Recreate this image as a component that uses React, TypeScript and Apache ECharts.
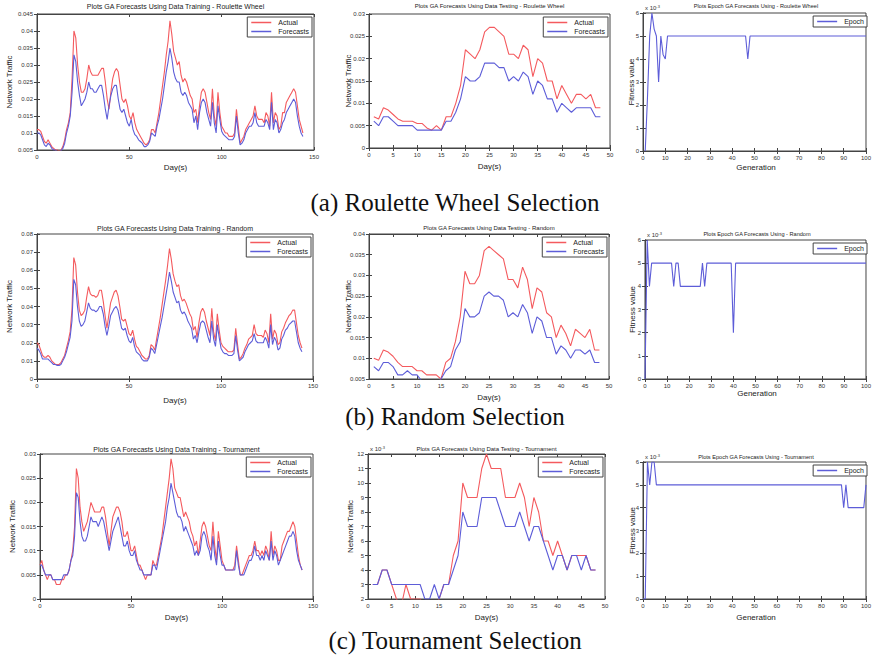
import React, { useEffect, useRef } from "react";
import * as echarts from "echarts";

// ---------- categories ----------
const trainDays = Array.from({ length: 145 }, (_, i) => i);
const testDays = Array.from({ length: 48 }, (_, i) => i + 1);
const gensRW = Array.from({ length: 100 }, (_, i) => i + 1);
const gens0 = Array.from({ length: 101 }, (_, i) => i);

// ---------- Roulette Wheel ----------
const rwTrainActual = [
  0.011, 0.011, 0.0105, 0.009, 0.0075, 0.007, 0.008, 0.007, 0.006, 0.0055,
  0.005, 0.005, 0.0048, 0.005, 0.006, 0.008, 0.011, 0.013, 0.016, 0.026,
  0.04, 0.038, 0.03, 0.025, 0.022, 0.022, 0.023, 0.026, 0.03, 0.028,
  0.027, 0.027, 0.027, 0.027, 0.028, 0.029, 0.029, 0.025, 0.02, 0.017,
  0.022, 0.026, 0.028, 0.029, 0.028, 0.024, 0.02, 0.019, 0.02, 0.018,
  0.015, 0.014, 0.016, 0.013, 0.011, 0.01, 0.009, 0.008, 0.007, 0.0065,
  0.007, 0.008, 0.011, 0.011, 0.01, 0.013, 0.016, 0.02, 0.024, 0.028,
  0.033, 0.037, 0.043, 0.039, 0.034, 0.032, 0.03, 0.031, 0.027, 0.025,
  0.026, 0.025, 0.023, 0.021, 0.02, 0.016, 0.017, 0.013, 0.018, 0.022,
  0.023, 0.022, 0.019, 0.016, 0.014, 0.023, 0.015, 0.012, 0.022, 0.016,
  0.012, 0.011, 0.01, 0.01, 0.009, 0.009, 0.009, 0.01, 0.017, 0.012,
  0.007, 0.008, 0.009, 0.011, 0.012, 0.013, 0.014, 0.015, 0.018, 0.015,
  0.014, 0.014, 0.014, 0.013, 0.016, 0.015, 0.012, 0.022, 0.013, 0.016,
  0.015, 0.011, 0.012, 0.016, 0.016, 0.019, 0.02, 0.021, 0.022, 0.023,
  0.022, 0.018, 0.014, 0.012, 0.01,
];
const rwTrainForecast = [
  0.01, 0.01, 0.0095, 0.008, 0.0065, 0.006, 0.007, 0.0065, 0.0055, 0.005,
  0.005, 0.0045, 0.0045, 0.0048, 0.0055, 0.007, 0.01, 0.012, 0.015, 0.022,
  0.033, 0.031, 0.025, 0.021, 0.018, 0.019, 0.02, 0.022, 0.025, 0.023,
  0.023, 0.022, 0.022, 0.023, 0.024, 0.024, 0.021, 0.017, 0.014, 0.018,
  0.021, 0.023, 0.024, 0.024, 0.02, 0.017, 0.016, 0.017, 0.015, 0.013,
  0.012, 0.014, 0.011, 0.0095, 0.009, 0.008, 0.0075, 0.007, 0.006, 0.006,
  0.0065, 0.0075, 0.01, 0.0095, 0.009, 0.012, 0.014, 0.017, 0.02, 0.024,
  0.028, 0.031, 0.035, 0.032, 0.028, 0.026, 0.025, 0.025, 0.022, 0.021,
  0.022, 0.021, 0.019, 0.018, 0.017, 0.013, 0.015, 0.011, 0.016, 0.019,
  0.02, 0.019, 0.016, 0.014, 0.012, 0.019, 0.013, 0.01, 0.018, 0.014,
  0.0105, 0.0095, 0.009, 0.0085, 0.008, 0.008, 0.008, 0.009, 0.015, 0.01,
  0.0065, 0.007, 0.008, 0.01, 0.011, 0.012, 0.012, 0.013, 0.016, 0.013,
  0.012, 0.012, 0.012, 0.012, 0.014, 0.013, 0.011, 0.019, 0.011, 0.014,
  0.013, 0.01, 0.011, 0.013, 0.014, 0.016, 0.017, 0.018, 0.019, 0.02,
  0.019, 0.015, 0.012, 0.01, 0.009,
];
const rwTestActual = [
  0.007, 0.0065, 0.009, 0.0085, 0.0075, 0.0065, 0.006, 0.006, 0.006, 0.0055,
  0.0055, 0.0045, 0.004, 0.005, 0.004, 0.007, 0.007, 0.01, 0.014, 0.022,
  0.021, 0.02, 0.022, 0.026, 0.027, 0.027, 0.026, 0.025, 0.021, 0.021,
  0.02, 0.023, 0.022, 0.016, 0.02, 0.019, 0.015, 0.015, 0.011, 0.014,
  0.012, 0.01, 0.012, 0.012, 0.011, 0.012, 0.009, 0.009,
];
const rwTestForecast = [
  0.006, 0.005, 0.007, 0.007, 0.006, 0.005, 0.005, 0.005, 0.005, 0.004,
  0.004, 0.004, 0.004, 0.004, 0.004, 0.006, 0.006, 0.008, 0.011, 0.016,
  0.015, 0.015, 0.016, 0.019, 0.019, 0.019, 0.018, 0.018, 0.015, 0.016,
  0.015, 0.017, 0.016, 0.012, 0.015, 0.014, 0.011, 0.011, 0.008, 0.01,
  0.009, 0.008, 0.009, 0.009, 0.009, 0.009, 0.007, 0.007,
];
const rwEpoch = [
  0, 2.3, 5, 6, 5.3, 5, 3, 5, 4.2, 4,
  5, 5, 5, 5, 5, 5, 5, 5, 5, 5,
  5, 5, 5, 5, 5, 5, 5, 5, 5, 5,
  5, 5, 5, 5, 5, 5, 5, 5, 5, 5,
  5, 5, 5, 5, 5, 5, 4, 5, 5, 5,
  5, 5, 5, 5, 5, 5, 5, 5, 5, 5,
  5, 5, 5, 5, 5, 5, 5, 5, 5, 5,
  5, 5, 5, 5, 5, 5, 5, 5, 5, 5,
  5, 5, 5, 5, 5, 5, 5, 5, 5, 5,
  5, 5, 5, 5, 5, 5, 5, 5, 5, 5,
];

// ---------- Random ----------
const rdTrainActual = [
  0.02, 0.019, 0.016, 0.013, 0.012, 0.012, 0.013, 0.012, 0.01, 0.009,
  0.008, 0.008, 0.008, 0.009, 0.011, 0.013, 0.017, 0.021, 0.026, 0.038,
  0.067, 0.063, 0.048, 0.038, 0.035, 0.036, 0.038, 0.045, 0.051, 0.047,
  0.046, 0.046, 0.045, 0.046, 0.049, 0.049, 0.043, 0.035, 0.028, 0.035,
  0.042, 0.045, 0.048, 0.049, 0.046, 0.04, 0.033, 0.032, 0.033, 0.029,
  0.025, 0.024, 0.027, 0.022, 0.018, 0.017, 0.015, 0.013, 0.012, 0.011,
  0.011, 0.013, 0.019, 0.018, 0.016, 0.022, 0.028, 0.034, 0.041, 0.048,
  0.055, 0.063, 0.072, 0.066, 0.058, 0.054, 0.051, 0.052, 0.046, 0.043,
  0.044, 0.042, 0.039, 0.036, 0.034, 0.027, 0.029, 0.023, 0.031, 0.037,
  0.039, 0.037, 0.032, 0.028, 0.024, 0.039, 0.026, 0.021, 0.036, 0.027,
  0.02, 0.018, 0.017, 0.016, 0.015, 0.015, 0.015, 0.016, 0.028, 0.019,
  0.011, 0.012, 0.014, 0.017, 0.019, 0.022, 0.023, 0.024, 0.03, 0.025,
  0.024, 0.024, 0.024, 0.023, 0.027, 0.025, 0.02, 0.036, 0.022, 0.027,
  0.025, 0.019, 0.02, 0.026, 0.028, 0.031, 0.033, 0.035, 0.036, 0.038,
  0.038, 0.031, 0.024, 0.02, 0.017,
];
const rdTrainForecast = [
  0.017, 0.016, 0.014, 0.011, 0.011, 0.011, 0.011, 0.01, 0.009, 0.008,
  0.008, 0.0075, 0.0075, 0.008, 0.01, 0.012, 0.015, 0.019, 0.023, 0.032,
  0.055, 0.052, 0.04, 0.032, 0.029, 0.03, 0.032, 0.037, 0.042, 0.039,
  0.038, 0.038, 0.037, 0.038, 0.04, 0.04, 0.036, 0.029, 0.024, 0.029,
  0.035, 0.037, 0.039, 0.04, 0.038, 0.033, 0.028, 0.027, 0.028, 0.024,
  0.021, 0.02, 0.023, 0.018, 0.015, 0.014, 0.013, 0.011, 0.01, 0.01,
  0.01, 0.012, 0.017, 0.016, 0.014, 0.019, 0.024, 0.029, 0.034, 0.04,
  0.046, 0.052, 0.059, 0.054, 0.048, 0.045, 0.042, 0.043, 0.038, 0.036,
  0.037, 0.035, 0.032, 0.03, 0.028, 0.022, 0.024, 0.02, 0.026, 0.031,
  0.032, 0.031, 0.027, 0.023, 0.02, 0.032, 0.022, 0.018, 0.03, 0.023,
  0.017, 0.015, 0.014, 0.014, 0.013, 0.013, 0.013, 0.014, 0.024, 0.016,
  0.01, 0.011, 0.012, 0.015, 0.017, 0.019, 0.02, 0.021, 0.025, 0.021,
  0.02, 0.02, 0.02, 0.02, 0.023, 0.021, 0.017, 0.03, 0.019, 0.023,
  0.021, 0.016, 0.017, 0.022, 0.024, 0.027, 0.028, 0.03, 0.031, 0.032,
  0.032, 0.026, 0.02, 0.017, 0.015,
];
const rdTestActual = [
  0.01, 0.0095, 0.012, 0.0115, 0.0105, 0.009, 0.008, 0.008, 0.008, 0.007,
  0.007, 0.006, 0.006, 0.006, 0.005, 0.009, 0.01, 0.014, 0.02, 0.031,
  0.028, 0.028, 0.03, 0.036, 0.037, 0.036, 0.035, 0.034, 0.029, 0.029,
  0.027, 0.032, 0.029, 0.022, 0.027, 0.026, 0.021, 0.02, 0.015, 0.018,
  0.016, 0.013, 0.017, 0.016, 0.015, 0.017, 0.012, 0.012,
];
const rdTestForecast = [
  0.008, 0.007, 0.009, 0.009, 0.008, 0.006, 0.006, 0.007, 0.006, 0.006,
  0.0045, 0.004, 0.004, 0.004, 0.005, 0.007, 0.008, 0.012, 0.014, 0.022,
  0.02, 0.02, 0.021, 0.025, 0.026, 0.025, 0.025, 0.024, 0.02, 0.021,
  0.02, 0.023, 0.021, 0.016, 0.02, 0.019, 0.015, 0.015, 0.011, 0.013,
  0.012, 0.01, 0.012, 0.012, 0.011, 0.012, 0.009, 0.009,
];
const rdEpoch = [
  0, 6, 4, 5, 5, 5, 5, 5, 5, 5,
  5, 5, 5, 4, 5, 5, 4, 4, 4, 4,
  4, 4, 4, 4, 4, 4, 5, 4, 5, 5,
  5, 5, 5, 5, 5, 5, 5, 5, 5, 5,
  2, 5, 5, 5, 5, 5, 5, 5, 5, 5,
  5, 5, 5, 5, 5, 5, 5, 5, 5, 5,
  5, 5, 5, 5, 5, 5, 5, 5, 5, 5,
  5, 5, 5, 5, 5, 5, 5, 5, 5, 5,
  5, 5, 5, 5, 5, 5, 5, 5, 5, 5,
  5, 5, 5, 5, 5, 5, 5, 5, 5, 5,
  5,
];

// ---------- Tournament ----------
const tnTrainActual = [
  0.007, 0.008, 0.006, 0.005, 0.004, 0.005, 0.005, 0.004, 0.004, 0.003,
  0.003, 0.003, 0.004, 0.004, 0.005, 0.005, 0.006, 0.008, 0.01, 0.015,
  0.027, 0.025, 0.019, 0.016, 0.014, 0.015, 0.016, 0.018, 0.02, 0.019,
  0.018, 0.018, 0.018, 0.018, 0.019, 0.019, 0.017, 0.014, 0.011, 0.014,
  0.017, 0.018, 0.019, 0.019, 0.018, 0.016, 0.013, 0.013, 0.014, 0.012,
  0.01, 0.01, 0.011, 0.009, 0.007, 0.007, 0.006, 0.005, 0.004, 0.005,
  0.005, 0.005, 0.008, 0.007, 0.007, 0.009, 0.011, 0.013, 0.016, 0.019,
  0.022, 0.025, 0.029, 0.027, 0.023, 0.022, 0.021, 0.021, 0.019, 0.017,
  0.018, 0.017, 0.016, 0.014, 0.013, 0.011, 0.012, 0.009, 0.012, 0.015,
  0.016, 0.015, 0.013, 0.011, 0.01, 0.016, 0.011, 0.008, 0.014, 0.011,
  0.008, 0.007, 0.006, 0.006, 0.006, 0.006, 0.006, 0.007, 0.011, 0.008,
  0.005, 0.005, 0.006, 0.007, 0.008, 0.009, 0.009, 0.01, 0.012, 0.01,
  0.01, 0.009, 0.01, 0.009, 0.011, 0.01, 0.008, 0.014, 0.009, 0.011,
  0.01, 0.008, 0.008, 0.011, 0.012, 0.013, 0.014, 0.014, 0.015, 0.016,
  0.015, 0.012, 0.009, 0.007, 0.006,
];
const tnTrainForecast = [
  0.007, 0.007, 0.006, 0.005, 0.005, 0.005, 0.005, 0.004, 0.004, 0.004,
  0.004, 0.004, 0.004, 0.005, 0.005, 0.005, 0.006, 0.008, 0.009, 0.013,
  0.022, 0.021, 0.016, 0.013, 0.012, 0.012, 0.013, 0.015, 0.017, 0.016,
  0.016, 0.016, 0.015, 0.016, 0.017, 0.016, 0.014, 0.012, 0.01, 0.012,
  0.014, 0.015, 0.016, 0.017, 0.015, 0.013, 0.011, 0.011, 0.012, 0.01,
  0.009, 0.009, 0.01, 0.008, 0.007, 0.006, 0.006, 0.005, 0.005, 0.005,
  0.005, 0.005, 0.007, 0.007, 0.006, 0.008, 0.01, 0.012, 0.014, 0.016,
  0.019, 0.021, 0.024, 0.022, 0.02, 0.018, 0.017, 0.017, 0.016, 0.014,
  0.015, 0.014, 0.013, 0.012, 0.011, 0.009, 0.01, 0.009, 0.01, 0.013,
  0.014, 0.013, 0.011, 0.01, 0.008, 0.013, 0.009, 0.007, 0.012, 0.009,
  0.007, 0.007, 0.006, 0.006, 0.006, 0.006, 0.006, 0.006, 0.01, 0.007,
  0.005, 0.005, 0.005, 0.006, 0.007, 0.008, 0.008, 0.009, 0.011, 0.009,
  0.009, 0.008, 0.009, 0.008, 0.01, 0.009, 0.008, 0.012, 0.008, 0.01,
  0.009, 0.007, 0.008, 0.009, 0.01, 0.011, 0.012, 0.013, 0.013, 0.014,
  0.013, 0.01, 0.008, 0.007, 0.006,
];
// testing values in units of 10^-3
const tnTestActual = [
  3, 3, 4, 4, 3, 2, 1.5, 3, 2, 2,
  2, 1.5, 1.5, 1.5, 2, 3, 3, 5, 6, 10,
  9, 9, 9, 11, 12, 11, 11, 11, 9, 9,
  9, 10, 9, 7, 9, 8, 6, 6, 5, 6,
  5, 4, 5, 5, 5, 5, 4, 4,
];
const tnTestForecast = [
  3, 3, 4, 4, 3, 3, 3, 3, 3, 3,
  3, 2, 2, 3, 2, 3, 3, 4, 5, 8,
  7, 7, 7, 9, 9, 9, 9, 8, 7, 7,
  7, 8, 7, 6, 7, 7, 6, 5, 4, 5,
  5, 4, 5, 5, 4, 5, 4, 4,
];
const tnEpoch = [
  0, 0, 6, 5, 6, 6, 5, 5, 5, 5,
  5, 5, 5, 5, 5, 5, 5, 5, 5, 5,
  5, 5, 5, 5, 5, 5, 5, 5, 5, 5,
  5, 5, 5, 5, 5, 5, 5, 5, 5, 5,
  5, 5, 5, 5, 5, 5, 5, 5, 5, 5,
  5, 5, 5, 5, 5, 5, 5, 5, 5, 5,
  5, 5, 5, 5, 5, 5, 5, 5, 5, 5,
  5, 5, 5, 5, 5, 5, 5, 5, 5, 5,
  5, 5, 5, 5, 5, 5, 5, 5, 5, 5,
  4, 5, 4, 4, 4, 4, 4, 4, 4, 4,
  5,
];

const RED = "#f45a5e";
const BLUE = "#5d5dd8";
const FONT = "Liberation Sans, Arial, sans-serif";

const pair = (xs: number[], ys: number[]) => ys.map((v, i) => [xs[i], v]);

type S = { name: string; color: string; data: number[][] };
type P = {
  l: number; r: number; t: number; b: number;
  x: [number, number, number]; y: [number, number, number];
  title: string; titleY: number; fs: number;
  xName: string; xNameY: number;
  yName: string; yNameX: number;
  exp?: boolean;
  legend: string[];
  series: S[];
};

const fc = (arrA: number[], arrF: number[], xs: number[]): S[] => [
  { name: "Actual", color: RED, data: pair(xs, arrA) },
  { name: "Forecasts", color: BLUE, data: pair(xs, arrF) },
];

const panels: P[] = [
  { l: 37, r: 314, t: 14, b: 150, x: [0, 150, 50], y: [0.005, 0.045, 0.005],
    title: "Plots GA Forecasts Using Data Training - Roulette Wheel", titleY: 6, fs: 7,
    xName: "Day(s)", xNameY: 167, yName: "Network Traffic", yNameX: 9,
    legend: ["Actual", "Forecasts"],
    series: fc(rwTrainActual, rwTrainForecast, trainDays) },
  { l: 369, r: 610, t: 14, b: 148, x: [0, 50, 5], y: [0, 0.03, 0.005],
    title: "Plots GA Forecasts Using Data Testing - Roulette Wheel", titleY: 6, fs: 6,
    xName: "Day(s)", xNameY: 166, yName: "Network Traffic", yNameX: 348,
    legend: ["Actual", "Forecasts"],
    series: fc(rwTestActual, rwTestForecast, testDays) },
  { l: 643, r: 869, t: 13, b: 151, x: [0, 100, 10], y: [0, 6, 1],
    title: "Plots Epoch GA Forecasts Using - Roulette Wheel", titleY: 6, fs: 5.6,
    xName: "Generation", xNameY: 167, yName: "Fitness value", yNameX: 631, exp: true,
    legend: ["Epoch"],
    series: [{ name: "Epoch", color: BLUE, data: pair(gensRW, rwEpoch) }] },

  { l: 37, r: 313, t: 234, b: 379, x: [0, 150, 50], y: [0, 0.08, 0.01],
    title: "Plots GA Forecasts Using Data Training - Random", titleY: 228, fs: 7,
    xName: "Day(s)", xNameY: 400, yName: "Network Traffic", yNameX: 9,
    legend: ["Actual", "Forecasts"],
    series: fc(rdTrainActual, rdTrainForecast, trainDays) },
  { l: 369, r: 609, t: 234, b: 379, x: [0, 50, 5], y: [0.005, 0.04, 0.005],
    title: "Plots GA Forecasts Using Data Testing - Random", titleY: 228, fs: 6,
    xName: "Day(s)", xNameY: 397, yName: "Network Traffic", yNameX: 348,
    legend: ["Actual", "Forecasts"],
    series: fc(rdTestActual, rdTestForecast, testDays) },
  { l: 645, r: 869, t: 240, b: 379, x: [0, 100, 10], y: [0, 6, 1],
    title: "Plots Epoch GA Forecasts Using - Random", titleY: 234, fs: 5.6,
    xName: "Generation", xNameY: 393, yName: "Fitness value", yNameX: 632, exp: true,
    legend: ["Epoch"],
    series: [{ name: "Epoch", color: BLUE, data: pair(gens0, rdEpoch) }] },

  { l: 40, r: 313, t: 454, b: 599, x: [0, 150, 50], y: [0, 0.03, 0.005],
    title: "Plots GA Forecasts Using Data Training - Tournament", titleY: 449, fs: 7,
    xName: "Day(s)", xNameY: 617, yName: "Network Traffic", yNameX: 12,
    legend: ["Actual", "Forecasts"],
    series: fc(tnTrainActual, tnTrainForecast, trainDays) },
  { l: 368, r: 605, t: 454, b: 599, x: [0, 50, 5], y: [2, 12, 1],
    title: "Plots GA Forecasts Using Data Testing - Tournament", titleY: 449, fs: 6,
    xName: "Day(s)", xNameY: 617, yName: "Network Traffic", yNameX: 350, exp: true,
    legend: ["Actual", "Forecasts"],
    series: fc(tnTestActual, tnTestForecast, testDays) },
  { l: 643, r: 869, t: 462, b: 599, x: [0, 100, 10], y: [0, 6, 1],
    title: "Plots Epoch GA Forecasts Using - Tournament", titleY: 457, fs: 5.6,
    xName: "Generation", xNameY: 617, yName: "Fitness value", yNameX: 632, exp: true,
    legend: ["Epoch"],
    series: [{ name: "Epoch", color: BLUE, data: pair(gens0, tnEpoch) }] },
];

const captions = [
  { text: "(a) Roulette Wheel Selection", y: 202 },
  { text: "(b) Random Selection", y: 416 },
  { text: "(c) Tournament Selection", y: 640 },
];

const fmt = (v: number) => String(Number(v.toFixed(4)));

function buildOption() {
  const grid: any[] = [];
  const xAxis: any[] = [];
  const yAxis: any[] = [];
  const series: any[] = [];
  const legend: any[] = [];
  const graphic: any[] = [];

  panels.forEach((p, i) => {
    grid.push({
      left: p.l, top: p.t, width: p.r - p.l, height: p.b - p.t,
      show: true, borderColor: "#444", borderWidth: 1, backgroundColor: "#fff",
    });
    const axCommon = {
      gridIndex: i, type: "value",
      axisLine: { show: true, lineStyle: { color: "#444", width: 1 } },
      axisTick: { show: true, inside: true, length: 3, lineStyle: { color: "#444" } },
      splitLine: { show: false },
    };
    xAxis.push({
      ...axCommon, position: "bottom", min: p.x[0], max: p.x[1], interval: p.x[2],
      axisLabel: { fontSize: 6, color: "#333", margin: 4, fontFamily: FONT, formatter: fmt },
    });
    xAxis.push({
      ...axCommon, position: "top", min: p.x[0], max: p.x[1], interval: p.x[2],
      axisLabel: { show: false },
    });
    yAxis.push({
      ...axCommon, position: "left", min: p.y[0], max: p.y[1], interval: p.y[2],
      axisLabel: { fontSize: 6, color: "#333", margin: 4, fontFamily: FONT, formatter: fmt },
    });
    yAxis.push({
      ...axCommon, position: "right", min: p.y[0], max: p.y[1], interval: p.y[2],
      axisLabel: { show: false },
    });
    p.series.forEach((s) => {
      series.push({
        type: "line", name: s.name, xAxisIndex: 2 * i, yAxisIndex: 2 * i,
        data: s.data, showSymbol: false, symbol: "none", clip: true,
        lineStyle: { color: s.color, width: 1.1 }, itemStyle: { color: s.color },
      });
    });
    legend.push({
      data: p.legend, orient: "vertical", selectedMode: false,
      right: 874 - p.r + 2, top: p.t + 3, icon: "rect",
      borderColor: "#444", borderWidth: 1, backgroundColor: "#fff",
      padding: [2, 3, 2, 4], itemGap: 2, itemWidth: 20, itemHeight: 1.5,
      textStyle: { fontSize: 7, color: "#222", fontFamily: FONT, padding: [0, 0, 0, 2] },
    });
    graphic.push({
      type: "text", x: (p.l + p.r) / 2, y: p.titleY,
      style: { text: p.title, fontSize: p.fs, fill: "#222", fontFamily: FONT, align: "center", verticalAlign: "middle" },
    });
    graphic.push({
      type: "text", x: (p.l + p.r) / 2, y: p.xNameY,
      style: { text: p.xName, fontSize: 8, fill: "#222", fontFamily: FONT, align: "center", verticalAlign: "middle" },
    });
    graphic.push({
      type: "text", x: p.yNameX, y: (p.t + p.b) / 2, rotation: Math.PI / 2,
      style: { text: p.yName, fontSize: 8, fill: "#222", fontFamily: FONT, align: "center", verticalAlign: "middle" },
    });
    if (p.exp) {
      graphic.push({
        type: "text", x: p.l + 2, y: p.t - 1,
        style: {
          text: "{a|x 10}{b|-3}", fontFamily: FONT, align: "left", verticalAlign: "bottom",
          rich: { a: { fontSize: 6, fill: "#333" }, b: { fontSize: 4, fill: "#333", verticalAlign: "top", padding: [0, 0, 4, 0] } },
        },
      });
    }
  });

  captions.forEach((c) => {
    graphic.push({
      type: "text", x: 455, y: c.y,
      style: { text: c.text, fontSize: 25, fill: "#111", fontFamily: "Liberation Serif, Times New Roman, serif", align: "center", verticalAlign: "middle" },
    });
  });

  return {
    animation: false,
    backgroundColor: "#fff",
    grid, xAxis, yAxis, series, legend, graphic,
  };
}

export default function App() {
  const ref = useRef<HTMLDivElement>(null);
  useEffect(() => {
    if (!ref.current) return;
    const chart = echarts.init(ref.current, undefined, { renderer: "svg" });
    chart.setOption(buildOption() as any);
    return () => chart.dispose();
  }, []);
  return (
    <div
      ref={ref}
      style={{ position: "absolute", left: 0, top: 0, width: 874, height: 655, background: "#fff" }}
    />
  );
}
